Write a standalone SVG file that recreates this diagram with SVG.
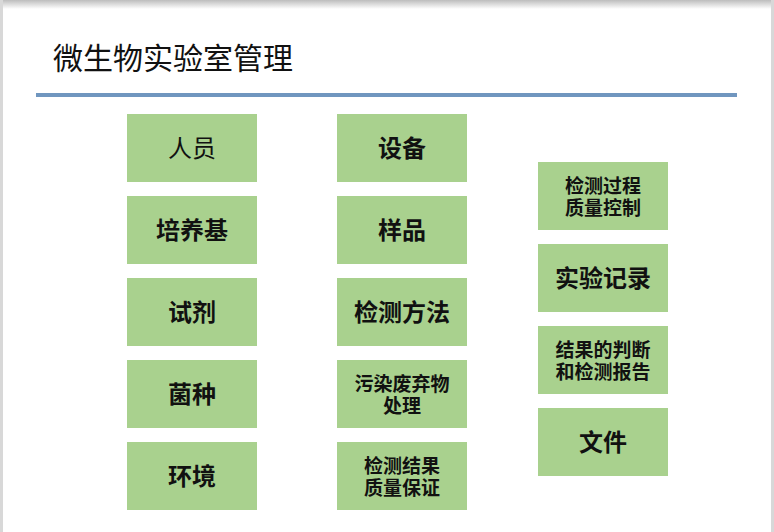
<svg xmlns="http://www.w3.org/2000/svg" width="774" height="532" viewBox="0 0 774 532">
  <defs>
    <linearGradient id="topShade" x1="0" y1="0" x2="0" y2="1">
      <stop offset="0" stop-color="#bdbdbd"/>
      <stop offset="1" stop-color="#ffffff"/>
    </linearGradient>
    <style>
      .box { fill: #A9D18E; }
      .t { font-family: "Noto Sans CJK SC", "Noto Sans", sans-serif; fill: #111; text-anchor: middle; dominant-baseline: central; }
      .b1 { font-size: 24px; font-weight: bold; }
      .b2 { font-size: 19px; font-weight: bold; }
      .r1 { font-size: 24px; font-weight: normal; }
      .title { font-family: "Noto Sans CJK SC", "Noto Sans", sans-serif; font-size: 30px; fill: #111; }
    </style>
  </defs>
  <rect x="0" y="0" width="774" height="532" fill="#ffffff"/>
  <rect x="0" y="0" width="774" height="9" fill="url(#topShade)"/>
  <rect x="0" y="0" width="3" height="532" fill="#d8d8d8"/>
  <rect x="771" y="0" width="3" height="532" fill="#d8d8d8"/>

  <g id="title">
    <text class="title" x="53" y="69">微生物实验室管理</text>
    <rect x="36" y="93" width="701" height="4" fill="#7096BF"/>
  </g>

  <g id="connectors"></g>

  <g id="n-renyuan"><rect class="box" x="127" y="114" width="130" height="68"/><text class="t r1" x="192" y="146">人员</text></g>
  <g id="n-peiyangji"><rect class="box" x="127" y="196" width="130" height="68"/><text class="t b1" x="192" y="228">培养基</text></g>
  <g id="n-shiji"><rect class="box" x="127" y="278" width="130" height="68"/><text class="t b1" x="192" y="310">试剂</text></g>
  <g id="n-junzhong"><rect class="box" x="127" y="360" width="130" height="68"/><text class="t b1" x="192" y="392">菌种</text></g>
  <g id="n-huanjing"><rect class="box" x="127" y="442" width="130" height="68"/><text class="t b1" x="192" y="474">环境</text></g>

  <g id="n-shebei"><rect class="box" x="337" y="114" width="130" height="68"/><text class="t b1" x="402" y="146">设备</text></g>
  <g id="n-yangpin"><rect class="box" x="337" y="196" width="130" height="68"/><text class="t b1" x="402" y="228">样品</text></g>
  <g id="n-jiancefangfa"><rect class="box" x="337" y="278" width="130" height="68"/><text class="t b1" x="402" y="310">检测方法</text></g>
  <g id="n-wuran"><rect class="box" x="337" y="360" width="130" height="68"/><text class="t b2" x="402" y="382">污染废弃物<tspan x="402" dy="22">处理</tspan></text></g>
  <g id="n-jieguozhiliang"><rect class="box" x="337" y="442" width="130" height="68"/><text class="t b2" x="402" y="464">检测结果<tspan x="402" dy="22">质量保证</tspan></text></g>

  <g id="n-guocheng"><rect class="box" x="538" y="162" width="130" height="68"/><text class="t b2" x="603" y="184">检测过程<tspan x="603" dy="22">质量控制</tspan></text></g>
  <g id="n-jilu"><rect class="box" x="538" y="244" width="130" height="68"/><text class="t b1" x="603" y="276">实验记录</text></g>
  <g id="n-baogao"><rect class="box" x="538" y="326" width="130" height="68"/><text class="t b2" x="603" y="348">结果的判断<tspan x="603" dy="22">和检测报告</tspan></text></g>
  <g id="n-wenjian"><rect class="box" x="538" y="408" width="130" height="68"/><text class="t b1" x="603" y="440">文件</text></g>
</svg>
